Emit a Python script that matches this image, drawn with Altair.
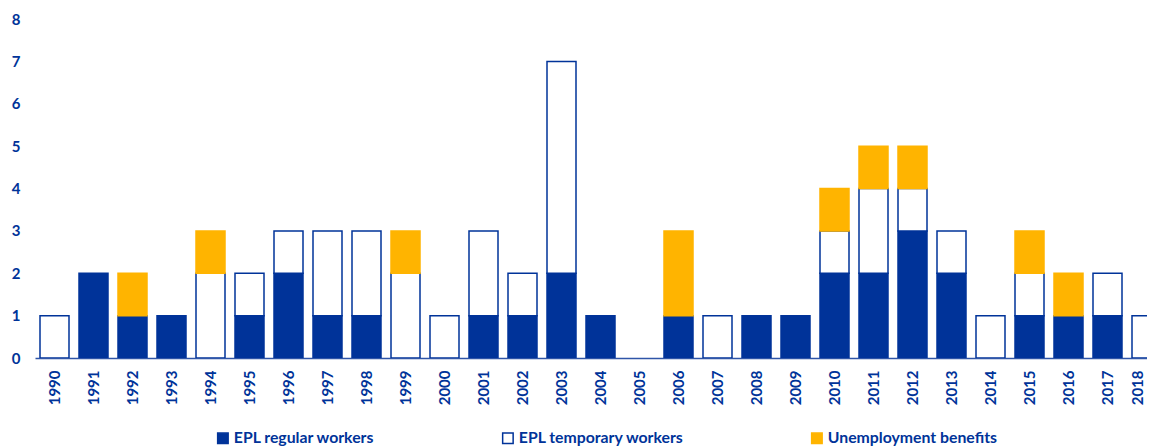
import altair as alt
import pandas as pd

years = list(range(1990, 2019))
regular = [0, 2, 1, 1, 0, 1, 2, 1, 1, 0, 0, 1, 1, 2, 1, 0, 1, 0, 1, 1, 2, 2, 3, 2, 0, 1, 1, 1, 0]
temporary = [1, 0, 0, 0, 2, 1, 1, 2, 2, 2, 1, 2, 1, 5, 0, 0, 0, 1, 0, 0, 1, 2, 1, 1, 1, 1, 0, 1, 1]
benefits = [0, 0, 1, 0, 1, 0, 0, 0, 0, 1, 0, 0, 0, 0, 0, 0, 2, 0, 0, 0, 1, 1, 1, 0, 0, 1, 1, 0, 0]
series = ["EPL regular workers", "EPL temporary workers", "Unemployment benefits"]

rows = []
for i, y in enumerate(years):
    for k, (s, vals) in enumerate(zip(series, [regular, temporary, benefits])):
        if vals[i] > 0:
            rows.append({"year": y, "series": s, "value": vals[i], "order": k})
df = pd.DataFrame(rows)

BLUE = "#003399"
ORANGE = "#FFB400"
FONT = "Lato"
W = 1112
STEP = 39.0

legend = alt.Legend(title=None, orient="none", legendX=180, legendY=411,
                    direction="horizontal", columns=3, columnPadding=124,
                    symbolType="square", symbolSize=110, symbolStrokeWidth=1.5,
                    labelColor=BLUE, labelFont=FONT, labelFontWeight="bold",
                    labelFontSize=15.8, labelOffset=3, labelLimit=400)

chart = alt.Chart(df).mark_bar(strokeWidth=1.5, clip=True, size=29).encode(
    x=alt.X("year:Q", title=None,
            scale=alt.Scale(domain=[1989.5, 1989.5 + W / STEP], nice=False, zero=False, padding=0),
            axis=alt.Axis(values=years, format="d", labelAngle=-90, labelColor=BLUE, labelFont=FONT,
                          labelFontWeight="bold", labelFontSize=15, labelPadding=12, ticks=False,
                          labelBaseline={"condition": {"test": "datum.value == 2018", "value": "alphabetic"},
                                         "value": "middle"},
                          labelOffset={"condition": {"test": "datum.value == 2018", "value": -4},
                                       "value": 0},
                          domainColor="#2F55A8", domainWidth=1.5, grid=False, labelFlush=False,
                          labelOverlap=False)),
    y=alt.Y("value:Q", stack="zero", title=None,
            scale=alt.Scale(domain=[0, 8], nice=False),
            axis=alt.Axis(values=list(range(0, 9)), labelColor=BLUE, labelFont=FONT,
                          labelFontWeight="bold", labelFontSize=15, labelPadding=15,
                          ticks=False, domain=False, grid=False)),
    fill=alt.Fill("series:N", sort=series,
                  scale=alt.Scale(domain=series, range=[BLUE, "#FFFFFF", ORANGE]),
                  legend=legend),
    stroke=alt.Stroke("series:N", sort=series,
                      scale=alt.Scale(domain=series, range=[BLUE, BLUE, ORANGE]),
                      legend=legend),
    order=alt.Order("order:Q"),
).properties(
    width=W,
    height=339,
    autosize=alt.AutoSizeParams(type="none"),
    padding={"left": 27, "top": 11, "right": 0, "bottom": 88},
).configure(background="white").configure_view(strokeWidth=0, stroke=None)

chart.save("out.html", embed_options={"renderer": "svg", "actions": False})
